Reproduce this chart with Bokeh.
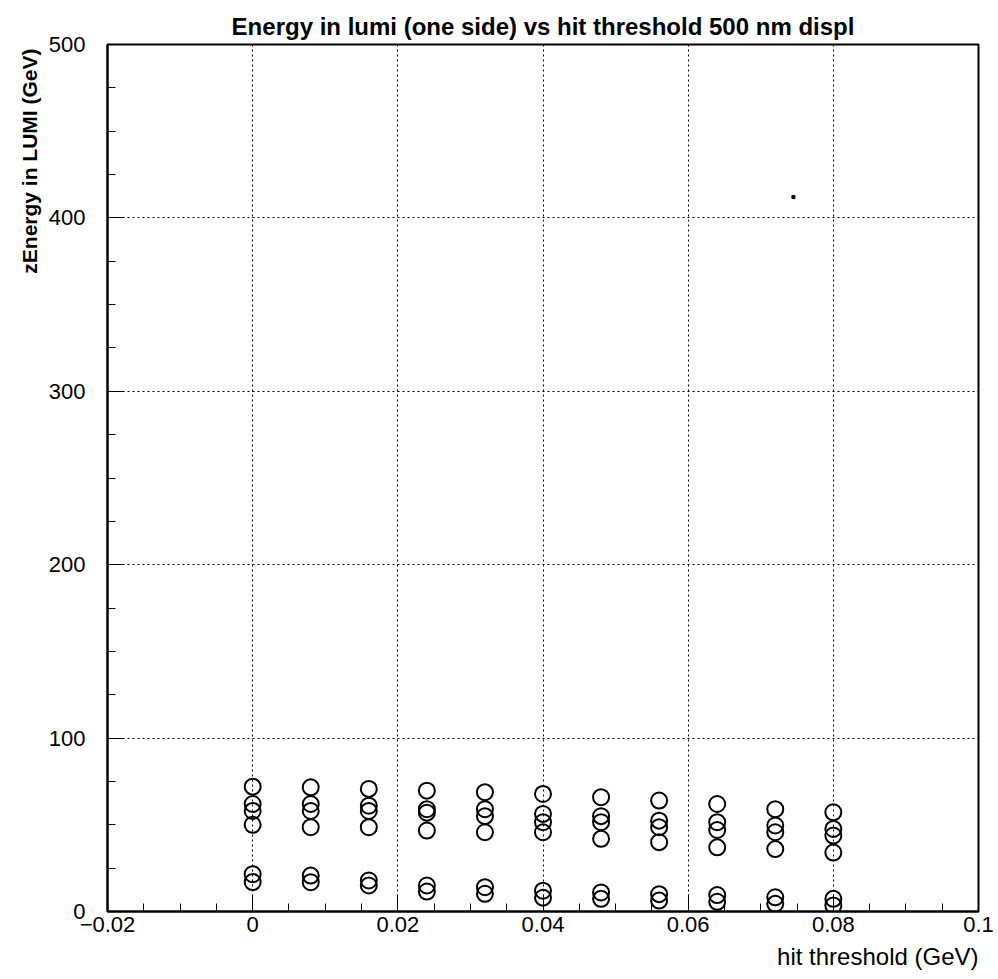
from bokeh.plotting import figure
from bokeh.models import FixedTicker, Range1d, Title, CustomJSTickFormatter, ColumnDataSource
from bokeh.embed import file_html
from bokeh.resources import INLINE

# hit threshold scan points (GeV)
threshold = [0.0, 0.008, 0.016, 0.024, 0.032, 0.040, 0.048, 0.056, 0.064, 0.072, 0.080]

# energy deposited in LUMI (GeV), one array per event
event_a = [72.0, 71.6, 70.7, 69.7, 68.8, 67.8, 65.9, 64.0, 62.0, 59.0, 57.2]
event_b = [62.0, 62.0, 61.0, 59.0, 59.0, 56.3, 55.0, 52.4, 51.5, 49.6, 47.6]
event_c = [58.0, 58.0, 58.0, 57.0, 55.0, 51.5, 51.5, 48.6, 47.0, 45.7, 43.8]
event_d = [50.0, 48.6, 48.6, 46.7, 45.7, 45.7, 41.9, 40.0, 37.0, 36.0, 34.0]
event_e = [21.5, 20.7, 17.9, 15.0, 14.0, 12.0, 11.0, 10.0, 9.5, 8.2, 7.3]
event_f = [17.0, 16.9, 15.0, 11.5, 10.2, 8.0, 7.3, 6.3, 5.6, 4.4, 3.5]

# stray entry
stray_x = [0.0745]
stray_y = [412.0]

x_major = [-0.02, 0.0, 0.02, 0.04, 0.06, 0.08, 0.1]
x_minor = [-0.015, -0.01, -0.005, 0.005, 0.01, 0.015, 0.025, 0.03, 0.035,
           0.045, 0.05, 0.055, 0.065, 0.07, 0.075, 0.085, 0.09, 0.095]
y_major = [0, 100, 200, 300, 400, 500]
y_minor = [25, 50, 75, 125, 150, 175, 225, 250, 275, 325, 350, 375, 425, 450, 475]

FONT = "Liberation Sans"

p = figure(width=998, height=979, output_backend="svg", toolbar_location=None,
           x_range=Range1d(-0.02, 0.1), y_range=Range1d(0, 500),
           min_border_left=107, min_border_right=20, min_border_top=44, min_border_bottom=68)
p.background_fill_color = "white"
p.border_fill_color = "white"
p.outline_line_color = "black"
p.outline_line_width = 2

p.title.text = "Energy in lumi (one side) vs hit threshold 500 nm displ"
p.title.align = "center"
p.title.text_font = FONT
p.title.text_font_size = "24px"
p.title.text_font_style = "bold"
p.title.text_color = "black"
p.title.standoff = 9

p.add_layout(Title(text="hit threshold (GeV)", align="right", text_font=FONT,
                   text_font_size="24px", text_font_style="normal",
                   text_color="black", standoff=12), "below")
p.add_layout(Title(text="zEnergy in LUMI (GeV)", align="right", text_font=FONT,
                   text_font_size="21px", text_font_style="bold",
                   text_color="black", offset=4), "left")

xt = FixedTicker(ticks=x_major, minor_ticks=x_minor)
yt = FixedTicker(ticks=y_major, minor_ticks=y_minor)
p.xaxis.ticker = xt
p.yaxis.ticker = yt
p.xgrid.ticker = xt
p.ygrid.ticker = yt

p.xaxis.formatter = CustomJSTickFormatter(code="""
    let s = tick.toFixed(3).replace(/0+$/, '').replace(/\\.$/, '');
    if (s === '-0') s = '0';
    return s.replace('-', '\\u2212');
""")

for ax in (p.xaxis, p.yaxis):
    ax.axis_line_color = "black"
    ax.axis_line_width = 2
    ax.major_tick_in = 17
    ax.major_tick_out = 0
    ax.minor_tick_in = 8
    ax.minor_tick_out = 0
    ax.major_tick_line_color = "black"
    ax.minor_tick_line_color = "black"
    ax.major_tick_line_width = 1
    ax.minor_tick_line_width = 1
    ax.major_label_text_font = FONT
    ax.major_label_text_font_size = "22px"
    ax.major_label_text_color = "black"
p.xaxis.major_label_standoff = 5
p.yaxis.major_label_standoff = 22

for g in (p.xgrid, p.ygrid):
    g.grid_line_color = "black"
    g.grid_line_width = 1
    g.grid_line_dash = "2 3"

for ev in (event_a, event_b, event_c, event_d, event_e, event_f):
    src = ColumnDataSource(dict(x=threshold, y=ev))
    p.scatter("x", "y", source=src, marker="circle", size=16, fill_color=None,
              line_color="black", line_width=2)

p.scatter(stray_x, stray_y, marker="square", size=3, fill_color="black", line_color="black")

open("out.html", "w").write(file_html(p, INLINE))
